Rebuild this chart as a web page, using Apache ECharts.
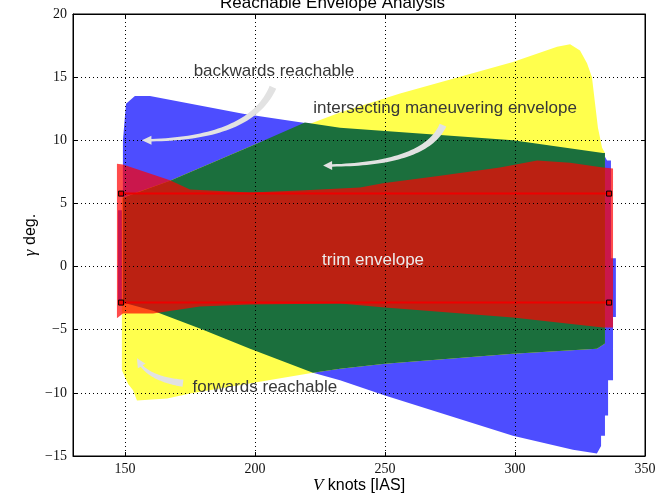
<!DOCTYPE html>
<html>
<head>
<meta charset="utf-8">
<script src="https://cdn.jsdelivr.net/npm/echarts@6/dist/echarts.min.js"></script>
<style>
    html, body {margin: 0; padding: 0; background: #fff;}
    #chart {width: 665px; height: 496px;}
</style>
</head>
<body>
<div id="chart"></div>
<script>
// outlines of each envelope: speed (knots IAS) and flight path angle gamma (deg)
const backwardSpeed = [147.3, 147.3, 149.2, 149.2, 150.4, 153.8, 159.6, 195.4, 221.2, 232.7, 299.2, 333.8, 335.4, 336.9, 336.9, 338.8, 338.8, 337.7, 337.7, 335.8, 335.8, 334.6, 334.6, 333.1, 333.1, 331.5, 322.3, 299.2, 250.0, 232.7, 222.3, 198.1, 178.8, 160.8, 149.2];
const backwardGamma = [-2.7, 4.45, 4.45, 10.0, 12.9, 13.5, 13.5, 12.1, 11.3, 11.0, 10.0, 9.0, 8.4, 8.4, 0.65, 0.65, -4.0, -4.0, -9.0, -9.0, -11.8, -11.8, -13.4, -13.4, -14.2, -14.8, -14.5, -13.4, -10.2, -9.0, -8.4, -6.5, -4.9, -3.5, -2.85];

const forwardSpeed = [148.8, 148.8, 167.3, 200.8, 221.2, 232.7, 255.8, 299.2, 316.2, 321.2, 325.0, 327.7, 329.6, 330.8, 331.9, 333.5, 334.6, 334.6, 331.5, 299.2, 250.0, 232.7, 222.3, 175.0, 166.2, 154.6, 153.1, 151.2];
const forwardGamma = [-8.2, 5.45, 6.8, 9.75, 11.3, 12.2, 13.7, 16.2, 17.4, 17.6, 17.1, 16.1, 15.0, 12.9, 11.0, 9.4, 9.0, -6.1, -6.5, -6.9, -7.7, -8.1, -8.4, -10.05, -10.45, -10.6, -9.8, -9.3];

const intersectSpeed = [149.2, 149.2, 167.3, 200.8, 219.2, 232.7, 299.2, 333.8, 334.6, 334.6, 331.5, 299.2, 250.0, 232.7, 222.3, 198.1, 178.8, 160.8];
const intersectGamma = [-2.85, 5.45, 6.8, 9.75, 11.4, 11.0, 10.0, 9.0, 9.0, -6.1, -6.5, -6.9, -7.7, -8.1, -8.4, -6.5, -4.9, -3.5];

const trimSpeed = [146.9, 146.9, 149.2, 167.3, 175.0, 198.1, 217.3, 240.4, 249.2, 271.2, 294.2, 308.5, 321.2, 333.8, 337.7, 337.7, 333.8, 299.2, 250.0, 232.7, 198.1, 178.8, 160.8, 149.2];
const trimGamma = [-4.1, 8.15, 8.08, 6.83, 6.1, 5.87, 6.03, 6.27, 6.59, 7.2, 7.84, 8.4, 8.23, 7.84, 7.76, -4.83, -4.83, -4.04, -3.25, -2.93, -3.0, -3.17, -3.72, -3.72];

// trim limits
const trimLineSpeed = [148.5, 336.2];
const trimLineUpper = [5.78, 5.78];
const trimLineLower = [-2.85, -2.85];

const speedTicks = [150, 200, 250, 300, 350];

const annotations = [
    {text: 'backwards reachable', at: [207.3, 15.46], tail: [206.9, 14.2], ctrl: [198.1, 10.0], tip: [156.5, 10.0]},
    {text: 'intersecting maneuvering envelope', at: [273.1, 12.5], tail: [272.3, 11.2], ctrl: [265.4, 8.0], tip: [226.2, 8.0]},
    {text: 'trim envelope', at: [245.4, 0.5], color: '#ececec'},
    {text: 'forwards reachable', at: [203.8, -9.6], tail: [172.3, -9.24], ctrl: [157.7, -8.84], tip: [154.6, -7.26]}
];

const SANS = 'Liberation Sans, Arial, sans-serif';
const SERIF = 'Liberation Serif, Times New Roman, serif';

const polygonSeries = (name, speeds, gammas, fill, z) => ({
    type: 'custom',
    name: name,
    z: z,
    silent: true,
    data: [[speeds[0], gammas[0]]],
    renderItem: (params, api) => ({
        type: 'polygon',
        shape: {points: speeds.map((v, i) => api.coord([v, gammas[i]]))},
        style: {fill: fill}
    })
});

const trimLineSeries = (gammas) => ({
    type: 'line',
    z: 6,
    data: trimLineSpeed.map((v, i) => [v, gammas[i]]),
    symbol: 'rect',
    symbolSize: 5,
    lineStyle: {color: '#ee0000', width: 2},
    itemStyle: {color: '#ee0000', borderColor: '#000', borderWidth: 1},
    animation: false
});

// tapered curved arrow (quadratic bezier tail -> tip)
const arrowPoints = (p0, c, p2) => {
    const bez = t => [
        (1 - t) * (1 - t) * p0[0] + 2 * (1 - t) * t * c[0] + t * t * p2[0],
        (1 - t) * (1 - t) * p0[1] + 2 * (1 - t) * t * c[1] + t * t * p2[1]
    ];
    const der = t => [
        2 * (1 - t) * (c[0] - p0[0]) + 2 * t * (p2[0] - c[0]),
        2 * (1 - t) * (c[1] - p0[1]) + 2 * t * (p2[1] - c[1])
    ];
    const headLen = 9, headW = 4.5, tailW = 3.6, neckW = 1.2;
    let tEnd = 1;
    for (let t = 1; t > 0; t -= 0.005) {
        const b = bez(t);
        if (Math.hypot(b[0] - p2[0], b[1] - p2[1]) >= headLen) { tEnd = t; break; }
    }
    const left = [], right = [];
    const n = 40;
    for (let k = 0; k <= n; k++) {
        const t = tEnd * k / n;
        const b = bez(t), d = der(t);
        const len = Math.hypot(d[0], d[1]) || 1;
        const nx = -d[1] / len, ny = d[0] / len;
        const w = tailW + (neckW - tailW) * k / n;
        left.push([b[0] + nx * w, b[1] + ny * w]);
        right.push([b[0] - nx * w, b[1] - ny * w]);
    }
    const base = bez(tEnd);
    const dl = Math.hypot(p2[0] - base[0], p2[1] - base[1]) || 1;
    const hx = -(p2[1] - base[1]) / dl, hy = (p2[0] - base[0]) / dl;
    const head = [[base[0] + hx * headW, base[1] + hy * headW], p2, [base[0] - hx * headW, base[1] - hy * headW]];
    return left.concat(head, right.reverse());
};

const annotationSeries = {
    type: 'custom',
    z: 20,
    silent: true,
    data: annotations.map(a => a.at),
    renderItem: (params, api) => {
        const a = annotations[params.dataIndex];
        const children = [];
        if (a.tip) {
            children.push({
                type: 'polygon',
                shape: {points: arrowPoints(api.coord(a.tail), api.coord(a.ctrl), api.coord(a.tip))},
                style: {fill: '#e2e2e2'}
            });
        }
        const p = api.coord(a.at);
        children.push({
            type: 'text',
            x: p[0],
            y: p[1],
            style: {
                text: a.text,
                fill: a.color || '#383838',
                fontFamily: SANS,
                fontSize: 17,
                align: 'center',
                verticalAlign: 'middle'
            }
        });
        return {type: 'group', children: children};
    }
};

const minus = v => String(v).replace('-', '\u2212');

const chart = echarts.init(document.getElementById('chart'));

const option = {
    animation: false,
    title: {
        text: 'Reachable Envelope Analysis',
        left: 'center',
        top: -10,
        textStyle: {fontFamily: SANS, fontSize: 17, fontWeight: 'normal', color: '#000'}
    },
    grid: {
        left: 73, right: 20, top: 14, bottom: 40,
        outerBoundsMode: 'none', containLabel: false,
        show: true, borderColor: '#000', borderWidth: 1
    },
    xAxis: [
        {
            type: 'value', min: 130, max: 350, position: 'bottom', z: 10,
            axisLine: {show: true, onZero: false, lineStyle: {color: '#000', width: 1}},
            axisTick: {show: true, inside: true, length: 4, customValues: speedTicks, lineStyle: {color: '#000'}},
            axisLabel: {customValues: speedTicks, fontFamily: SERIF, fontSize: 14, color: '#111', margin: 6},
            splitLine: {show: true, lineStyle: {color: '#000', width: 1, type: [1, 3]}},
            name: '{v|V} knots [IAS]',
            nameLocation: 'middle',
            nameMoveOverlap: false,
            nameGap: 21,
            nameTextStyle: {
                fontFamily: SANS, fontSize: 16, color: '#000',
                rich: {v: {fontFamily: SERIF, fontStyle: 'italic', fontSize: 17, color: '#000'}}
            }
        },
        {
            type: 'value', min: 130, max: 350, position: 'top', z: 10,
            axisLine: {show: true, onZero: false, lineStyle: {color: '#000', width: 1}},
            axisTick: {show: true, inside: true, length: 4, customValues: speedTicks, lineStyle: {color: '#000'}},
            axisLabel: {show: false},
            splitLine: {show: false}
        }
    ],
    yAxis: [
        {
            type: 'value', min: -15, max: 20, interval: 5, position: 'left', z: 10,
            axisLine: {show: true, onZero: false, lineStyle: {color: '#000', width: 1}},
            axisTick: {show: true, inside: true, length: 4, lineStyle: {color: '#000'}},
            axisLabel: {formatter: minus, fontFamily: SERIF, fontSize: 14, color: '#111', margin: 6},
            splitLine: {show: true, lineStyle: {color: '#000', width: 1, type: [1, 3]}},
            name: '{g|\u03b3} deg.',
            nameLocation: 'middle',
            nameMoveOverlap: false,
            nameGap: 34,
            nameRotate: 90,
            nameTextStyle: {
                fontFamily: SANS, fontSize: 16, color: '#000',
                rich: {g: {fontFamily: SERIF, fontStyle: 'italic', fontSize: 17, color: '#000'}}
            }
        },
        {
            type: 'value', min: -15, max: 20, interval: 5, position: 'right', z: 10,
            axisLine: {show: true, onZero: false, lineStyle: {color: '#000', width: 1}},
            axisTick: {show: true, inside: true, length: 4, lineStyle: {color: '#000'}},
            axisLabel: {show: false},
            splitLine: {show: false}
        }
    ],
    series: [
        polygonSeries('backwards reachable', backwardSpeed, backwardGamma, '#4d4dff', 1),
        polygonSeries('forwards reachable', forwardSpeed, forwardGamma, '#ffff4d', 2),
        polygonSeries('intersecting maneuvering envelope', intersectSpeed, intersectGamma, '#1b6f3d', 3),
        polygonSeries('trim envelope', trimSpeed, trimGamma, 'rgba(255,0,0,0.7)', 4),
        trimLineSeries(trimLineUpper),
        trimLineSeries(trimLineLower),
        annotationSeries
    ]
};

chart.setOption(option);
</script>
</body>
</html>
